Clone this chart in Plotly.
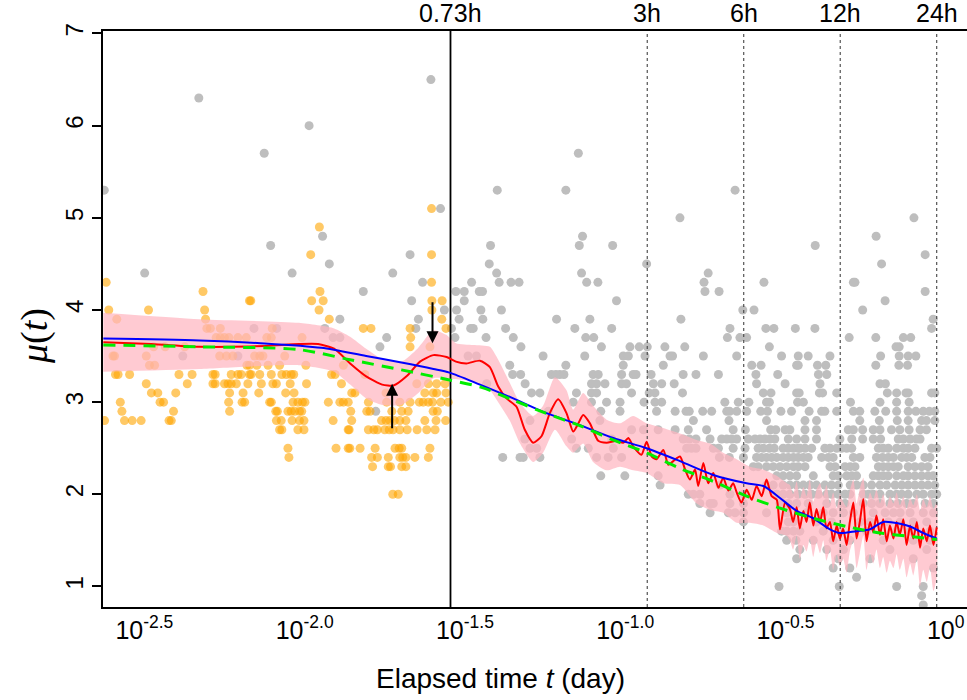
import math
import plotly.graph_objects as go

# ---------------- data ----------------
# magnitude levels (mu) and, per level, the log10 of elapsed time (day) of each event
gray_levels = [6.5, 6.3, 6.0, 5.7, 5.3, 5.1, 5.0, 4.8, 4.7, 4.6, 4.5, 4.4, 4.3, 4.2, 4.1, 4.0,
               3.9, 3.8, 3.7, 3.6, 3.5, 3.4, 3.3, 3.2, 3.1, 3.0, 2.9, 2.8, 2.7, 2.6, 2.5, 2.4,
               2.3, 2.2, 2.1, 2.0, 1.9, 1.8, 1.7, 1.6, 1.5, 1.4, 1.3, 1.2, 1.1, 1.0, 0.9, 0.8]
gray_log10_t = [
    [-1.578],
    [-2.302],
    [-1.958],
    [-2.098, -1.118],
    [-2.597, -1.371, -1.157, -0.629],
    [-1.548],
    [-0.801, -0.071],
    [-1.916, -1.105, -0.189],
    [-2.078, -1.392, -1.115, -1.011, -0.379],
    [-1.643, -0.036],
    [-1.895, -1.396, -0.905, -0.172],
    [-2.471, -2.011, -1.697, -1.373, -1.108, -0.713],
    [-1.604, -1.451, -1.365, -1.328, -1.303, -1.092, -1.057, -0.726, -0.539, -0.260, -0.255],
    [-1.789, -1.500, -1.474, -1.427, -1.417, -0.723, -0.679, -0.036],
    [-1.638, -1.474, -0.999, -0.161],
    [-1.536, -1.498, -1.422, -1.358, -0.605, -0.570, -0.231],
    [-1.862, -1.617, -1.490, -1.416, -1.186, -1.082, -0.798, -0.011],
    [-2.130, -2.059, -1.909, -1.625, -1.514, -1.454, -1.446, -1.345, -1.129, -1.014, -0.645,
     -0.533, -0.508, -0.441, -0.380, -0.016],
    [-1.883, -1.862, -1.716, -1.503, -1.406, -1.321, -1.095, -1.070, -0.653, -0.614, -0.593,
     -0.273, -0.190, -0.104, -0.081],
    [-1.737, -1.297, -1.046, -0.957, -0.928, -0.903, -0.848, -0.786, -0.522, -0.127, -0.117],
    [-2.352, -2.180, -1.462, -1.436, -1.228, -1.098, -0.978, -0.962, -0.910, -0.832, -0.824,
     -0.728, -0.624, -0.484, -0.432, -0.401, -0.333, -0.175, -0.117, -0.089, -0.065],
    [-1.332, -1.157, -0.978, -0.853, -0.577, -0.548, -0.437, -0.432, -0.372, -0.346, -0.190,
     -0.118, -0.091],
    [-1.323, -1.298, -1.202, -1.188, -1.176, -1.163, -1.072, -1.056, -0.983, -0.947, -0.938,
     -0.891, -0.791, -0.751, -0.681, -0.564, -0.496, -0.369, -0.343],
    [-1.404, -1.284, -1.077, -1.061, -1.035, -0.983, -0.968, -0.884, -0.858, -0.819, -0.562,
     -0.473, -0.364, -0.177, -0.160],
    [-1.264, -1.238, -1.124, -1.077, -1.061, -0.952, -0.897, -0.879, -0.793, -0.541, -0.517,
     -0.437, -0.429, -0.366, -0.356, -0.312, -0.154, -0.125, -0.096, -0.089, -0.016, -0.006],
    [-1.134, -1.077, -1.030, -0.988, -0.913, -0.879, -0.858, -0.661, -0.619, -0.586, -0.531,
     -0.522, -0.434, -0.416, -0.269, -0.177, -0.125, -0.086],
    [-1.750, -1.212, -1.048, -0.988, -0.874, -0.816, -0.782, -0.772, -0.730, -0.702, -0.655,
     -0.646, -0.624, -0.593, -0.549, -0.528, -0.486, -0.453, -0.398, -0.359, -0.349, -0.312,
     -0.260, -0.240, -0.193, -0.159, -0.125, -0.089, -0.065, -0.042, -0.023, -0.006],
    [-1.269, -1.051, -0.759, -0.648, -0.531, -0.411, -0.375, -0.240, -0.179, -0.123, -0.089,
     -0.047, -0.032, -0.006],
    [-0.952, -0.915, -0.869, -0.816, -0.775, -0.718, -0.635, -0.597, -0.518, -0.502, -0.473,
     -0.458, -0.411, -0.375, -0.276, -0.260, -0.231, -0.198, -0.177, -0.141, -0.115, -0.086,
     -0.052, -0.032],
    [-1.285, -1.139, -1.014, -0.791, -0.772, -0.751, -0.707, -0.671, -0.655, -0.640, -0.624,
     -0.588, -0.567, -0.551, -0.536, -0.520, -0.505, -0.463, -0.437, -0.411, -0.375, -0.302,
     -0.265, -0.231, -0.198, -0.175, -0.120, -0.104, -0.083, -0.063, -0.052],
    [-1.269, -1.248, -1.124, -1.087, -1.009, -0.780, -0.765, -0.751, -0.697, -0.681, -0.635,
     -0.598, -0.557, -0.541, -0.522, -0.507, -0.479, -0.463, -0.447, -0.432, -0.427, -0.411,
     -0.390, -0.349, -0.333, -0.312, -0.297, -0.281, -0.265, -0.182, -0.167, -0.151, -0.125,
     -0.104, -0.089, -0.068, -0.016, 0.0],
    [-1.354, -1.300, -1.290, -1.238, -1.061, -1.025, -0.983, -0.678, -0.647, -0.603, -0.562,
     -0.546, -0.531, -0.515, -0.499, -0.479, -0.463, -0.447, -0.432, -0.416, -0.401, -0.359,
     -0.338, -0.323, -0.260, -0.240, -0.188, -0.169, -0.151, -0.135, -0.109, -0.094, -0.078,
     -0.037, -0.021],
    [-0.572, -0.557, -0.531, -0.510, -0.489, -0.468, -0.447, -0.432, -0.411, -0.333, -0.317,
     -0.286, -0.270, -0.255, -0.182, -0.167, -0.151, -0.135, -0.120, -0.089, -0.068, -0.047,
     -0.027],
    [-1.048, -0.973, -0.869, -0.499, -0.479, -0.458, -0.437, -0.385, -0.323, -0.307, -0.281,
     -0.265, -0.250, -0.198, -0.182, -0.167, -0.151, -0.125, -0.104, -0.089, -0.068, -0.047,
     -0.027, -0.011],
    [-0.863, -0.676, -0.531, -0.510, -0.479, -0.458, -0.437, -0.416, -0.396, -0.375, -0.349,
     -0.328, -0.307, -0.270, -0.250, -0.229, -0.203, -0.177, -0.156, -0.130, -0.109, -0.089,
     -0.068, -0.047, -0.027, -0.006],
    [-0.775, -0.759, -0.739, -0.645, -0.603, -0.499, -0.479, -0.458, -0.432, -0.411, -0.390,
     -0.369, -0.343, -0.328, -0.307, -0.286, -0.271, -0.229, -0.213, -0.198, -0.177, -0.146,
     -0.125, -0.109, -0.089, -0.062, -0.042, -0.016, 0.000],
    [-0.739, -0.707, -0.697, -0.645, -0.603, -0.489, -0.479, -0.463, -0.437, -0.401, -0.343,
     -0.302, -0.286, -0.229, -0.203, -0.177, -0.146, -0.120, -0.094, -0.073, -0.036, -0.010],
    [-0.707, -0.650, -0.629, -0.603, -0.531, -0.468, -0.406, -0.354, -0.323, -0.291, -0.260,
     -0.198, -0.161, -0.135, -0.114, -0.083, -0.042, -0.010],
    [-0.603, -0.463, -0.447, -0.375, -0.328, -0.239, -0.208, -0.151, -0.114, -0.073, -0.031],
    [-0.484, -0.468, -0.447, -0.427, -0.354, -0.302, -0.219, -0.125, -0.083, -0.021],
    [-0.468, -0.439, -0.385, -0.323, -0.271, -0.167, -0.073, -0.021],
    [-0.427, -0.343, -0.291, -0.146, -0.031],
    [-0.437, -0.307, -0.208, -0.073],
    [-0.323, -0.271, -0.010],
    [-0.250],
    [-0.492, -0.304, -0.125, -0.042],
    [-0.047],
    [-0.042],
]

orange_levels = [5.1, 4.9, 4.6, 4.3, 4.2, 4.1, 4.0, 3.9, 3.8, 3.7, 3.6, 3.5, 3.4, 3.3, 3.2,
                 3.1, 3.0, 2.9, 2.8, 2.7, 2.5, 2.4, 2.3, 2.0]
orange_log10_t = [
    [-1.576],
    [-1.926],
    [-1.953, -1.576],
    [-2.591, -1.576],
    [-2.289, -1.924],
    [-2.144, -2.140, -1.950, -1.914, -1.575, -1.543],
    [-2.583, -2.459, -2.284, -1.927, -1.575],
    [-2.558, -2.281, -1.895, -1.544],
    [-2.277, -2.266, -2.235, -2.073, -1.789, -1.765, -1.643, -1.531],
    [-2.248, -2.235, -2.222, -2.208, -2.180, -2.154, -2.090, -2.076, -1.980, -1.641],
    [-2.443, -2.407, -2.346, -1.643, -1.581],
    [-2.570, -2.565, -2.466, -2.237, -2.216, -2.196, -2.128, -2.112, -2.102, -2.034],
    [-2.456, -2.440, -2.152, -2.144, -2.121, -2.086, -2.050, -1.968, -1.851],
    [-2.562, -2.554, -2.518, -2.364, -2.323, -2.258, -2.251, -2.201, -2.180, -2.170, -2.144,
     -2.139, -2.112, -2.076, -2.043, -2.029, -2.014, -2.006, -1.888, -1.877, -1.784],
    [-2.466, -2.338, -2.258, -2.251, -2.222, -2.211, -2.201, -2.185, -2.149, -2.107, -2.071,
     -2.060, -2.017, -1.966, -1.857, -1.622, -1.586, -1.560, -1.534],
    [-2.450, -2.430, -2.374, -2.206, -2.164, -2.115, -2.031, -2.005, -1.825, -1.815, -1.718,
     -1.597, -1.571, -1.560, -1.531],
    [-2.547, -2.423, -2.412, -2.209, -2.167, -2.159, -2.081, -2.076, -2.008, -1.993, -1.979,
     -1.971, -1.898, -1.862, -1.851, -1.836, -1.773, -1.716, -1.675, -1.643, -1.614, -1.602,
     -1.586, -1.573, -1.547, -1.524],
    [-2.542, -2.381, -2.206, -2.062, -2.057, -2.024, -2.014, -2.003, -1.988, -1.981, -1.828,
     -1.778, -1.768, -1.700, -1.669, -1.649, -1.571, -1.558],
    [-2.596, -2.534, -2.510, -2.482, -2.395, -2.388, -2.060, -2.045, -2.011, -1.988, -1.974,
     -1.883, -1.825, -1.732, -1.718, -1.706, -1.692, -1.675, -1.656, -1.597, -1.562, -1.532],
    [-2.050, -2.043, -1.993, -1.974, -1.836, -1.833, -1.773, -1.756, -1.745, -1.722, -1.708,
     -1.696, -1.675, -1.652, -1.621, -1.591, -1.565],
    [-2.024, -1.874, -1.836, -1.831, -1.799, -1.752, -1.690, -1.677, -1.669, -1.581],
    [-2.021, -1.763, -1.745, -1.711, -1.675, -1.666, -1.656, -1.628, -1.586],
    [-1.760, -1.711, -1.704, -1.669, -1.656],
    [-1.697, -1.680],
]

# red estimate and its pink band
red_log10_t = [-2.60, -2.45, -2.30, -2.20, -2.09, -1.99, -1.93, -1.88, -1.83, -1.78, -1.73,
               -1.695, -1.654, -1.612, -1.570, -1.529, -1.500, -1.467, -1.425, -1.394, -1.368,
               -1.342, -1.311, -1.285, -1.259, -1.233, -1.207, -1.181, -1.155, -1.134, -1.118,
               -1.103, -1.082, -1.056, -1.030, -0.999, -0.978, -0.962, -0.947, -0.921, -0.905,
               -0.889, -0.874, -0.853, -0.837, -0.822, -0.801, -0.785, -0.770, -0.754, -0.744,
               -0.728, -0.713, -0.697, -0.681, -0.666, -0.650, -0.635, -0.624, -0.609, -0.593,
               -0.577, -0.562, -0.546, -0.531, -0.515, -0.499, -0.489, -0.473,
               -0.458, -0.448, -0.437, -0.427, -0.416, -0.406, -0.396, -0.385, -0.375, -0.364,
               -0.354, -0.344, -0.333, -0.323, -0.312, -0.302, -0.292, -0.281, -0.271, -0.260,
               -0.250, -0.240, -0.229, -0.219, -0.208, -0.198, -0.188, -0.177, -0.167, -0.156,
               -0.146, -0.135, -0.125, -0.115, -0.104, -0.094, -0.083, -0.073, -0.062, -0.052,
               -0.042, -0.031, -0.021, -0.010, 0.000]
red_mu = [3.65, 3.63, 3.60, 3.60, 3.61, 3.63, 3.63, 3.58, 3.42, 3.28, 3.19,
          3.18, 3.28, 3.44, 3.51, 3.49, 3.44, 3.42, 3.45, 3.38, 3.17,
          3.04, 2.95, 2.70, 2.56, 2.63, 2.88, 3.03, 2.88, 2.68, 2.77,
          2.86, 2.77, 2.58, 2.56, 2.58, 2.56, 2.61, 2.52, 2.43, 2.57,
          2.41, 2.38, 2.48, 2.32, 2.36, 2.41, 2.27, 2.16, 2.27, 2.09,
          2.34, 2.12, 2.23, 2.07, 2.18, 2.04, 2.12, 2.02, 1.91, 2.05,
          1.94, 2.09, 1.98, 2.16, 1.98, 1.94, 1.62, 1.91,
          1.84, 1.70, 1.86, 1.63, 1.82, 1.70, 1.91, 1.66, 1.84, 1.70,
          1.86, 1.63, 1.70, 1.49, 1.66, 1.52, 1.63, 1.45, 1.70, 1.91,
          1.52, 1.70, 1.95, 1.49, 1.70, 1.59, 1.77, 1.56, 1.73, 1.49,
          1.66, 1.52, 1.70, 1.56, 1.73, 1.45, 1.66, 1.52, 1.70, 1.42,
          1.63, 1.49, 1.66, 1.45, 1.64]

band_log10_t = [-2.60, -2.30, -1.99, -1.88, -1.83, -1.78, -1.73, -1.67, -1.62, -1.57, -1.53,
                -1.50, -1.446, -1.394, -1.368, -1.332, -1.300, -1.259, -1.228, -1.191, -1.155,
                -1.134, -1.103, -1.072, -1.030, -0.988, -0.947, -0.905, -0.853, -0.801, -0.749,
                -0.707, -0.666, -0.624, -0.583, -0.541, -0.499, -0.468,
                -0.458, -0.448, -0.437, -0.427, -0.416, -0.406, -0.396, -0.385, -0.375, -0.364,
                -0.354, -0.344, -0.333, -0.323, -0.312, -0.302, -0.292, -0.281, -0.271, -0.260,
                -0.250, -0.240, -0.229, -0.219, -0.208, -0.198, -0.188, -0.177, -0.167, -0.156,
                -0.146, -0.135, -0.125, -0.115, -0.104, -0.094, -0.083, -0.073, -0.062, -0.052,
                -0.042, -0.031, -0.021, -0.010, 0.000]
band_upper = [3.97, 3.90, 3.86, 3.80, 3.71, 3.58, 3.47, 3.44, 3.58, 3.78, 3.73,
              3.64, 3.62, 3.60, 3.46, 3.21, 2.99, 2.85, 2.96, 3.27, 3.13,
              2.92, 3.10, 2.96, 2.81, 2.77, 2.85, 2.77, 2.72, 2.66, 2.59,
              2.55, 2.45, 2.38, 2.30, 2.27, 2.20, 2.12,
              2.10, 2.00, 2.14, 1.95, 2.08, 1.98, 2.16, 1.92, 2.05, 2.12,
              1.98, 2.10, 1.90, 2.02, 1.85, 2.00, 1.92, 1.86, 2.04, 2.16,
              1.90, 2.06, 2.18, 1.88, 2.02, 1.94, 2.05, 1.90, 2.00, 1.86,
              1.98, 1.90, 2.02, 1.88, 1.98, 1.84, 1.96, 1.88, 2.00, 1.82,
              1.95, 1.86, 1.98, 1.84, 1.92]
band_lower = [3.33, 3.36, 3.40, 3.33, 3.19, 3.04, 2.97, 2.97, 3.09, 3.26, 3.26,
              3.25, 3.22, 3.13, 3.00, 2.80, 2.55, 2.35, 2.45, 2.70, 2.52,
              2.45, 2.55, 2.35, 2.26, 2.30, 2.26, 2.23, 2.12, 2.10, 1.90,
              1.83, 1.80, 1.69, 1.69, 1.66, 1.58, 1.55,
              1.50, 1.40, 1.55, 1.30, 1.45, 1.38, 1.52, 1.32, 1.48, 1.36,
              1.50, 1.28, 1.40, 1.18, 1.35, 1.22, 1.30, 1.15, 1.38, 1.50,
              1.20, 1.36, 1.55, 1.18, 1.36, 1.25, 1.40, 1.20, 1.32, 1.15,
              1.28, 1.20, 1.35, 1.18, 1.30, 1.10, 1.25, 1.12, 1.30, 1.00,
              1.18, 1.05, 1.20, 0.95, 1.10]

blue_log10_t = [-2.60, -2.30, -2.11, -1.92, -1.78, -1.67, -1.57, -1.52, -1.425, -1.321, -1.217,
                -1.113, -1.009, -0.905, -0.801, -0.697, -0.593, -0.541, -0.489, -0.437, -0.385,
                -0.333, -0.302, -0.250, -0.208, -0.167, -0.114, -0.083, -0.042, 0.000]
blue_mu = [3.69, 3.67, 3.64, 3.59, 3.50, 3.43, 3.36, 3.32, 3.19, 3.04, 2.88,
           2.75, 2.61, 2.50, 2.36, 2.21, 2.12, 2.09, 1.96, 1.82, 1.74,
           1.62, 1.58, 1.60, 1.62, 1.70, 1.68, 1.65, 1.58, 1.52]

green_log10_t = [-2.60, -2.30, -1.99, -1.83, -1.67, -1.52, -1.42, -1.32, -1.22, -1.11, -1.01,
                 -0.905, -0.80, -0.697, -0.593, -0.489, -0.385, -0.281, -0.177, -0.073, 0.000]
green_mu = [3.62, 3.60, 3.57, 3.46, 3.35, 3.24, 3.16, 3.02, 2.88, 2.74, 2.59,
            2.45, 2.28, 2.14, 1.98, 1.85, 1.74, 1.65, 1.58, 1.54, 1.51]

marker_hours = [0.73, 3, 6, 12, 24]
marker_labels = ["0.73h", "3h", "6h", "12h", "24h"]

# arrows marking the dip and the bump (log10 t, tail mu, head mu)
arrow_log10_t = [-1.573, -1.699]
arrow_tail_mu = [4.10, 2.70]
arrow_head_mu = [3.64, 3.20]

x_ticks_log10 = [-2.5, -2.0, -1.5, -1.0, -0.5, 0.0]
x_tick_text = ["10<sup>-2.5</sup>", "10<sup>-2.0</sup>", "10<sup>-1.5</sup>",
               "10<sup>-1.0</sup>", "10<sup>-0.5</sup>", "10<sup>0</sup>"]
y_ticks = [1, 2, 3, 4, 5, 6, 7]

X_RANGE = [-2.601, 0.0945]
Y_RANGE = [0.777, 7.027]

assert len(gray_levels) == len(gray_log10_t)
assert len(orange_levels) == len(orange_log10_t)
assert len(red_log10_t) == len(red_mu)
assert len(band_log10_t) == len(band_upper) == len(band_lower)


def flatten(levels, rows):
    xs, ys = [], []
    for lv, row in zip(levels, rows):
        for v in row:
            xs.append(10 ** v)
            ys.append(lv)
    return xs, ys


SANS = "Liberation Sans, Arial, Helvetica, sans-serif"
SERIF = "Liberation Serif, Times New Roman, serif"

fig = go.Figure()

gx, gy = flatten(gray_levels, gray_log10_t)
fig.add_trace(go.Scatter(x=gx, y=gy, mode="markers",
                         marker=dict(size=9, color="#bebebe", line=dict(width=0)),
                         hoverinfo="skip", showlegend=False))

ox, oy = flatten(orange_levels, orange_log10_t)
fig.add_trace(go.Scatter(x=ox, y=oy, mode="markers",
                         marker=dict(size=9, color="rgba(255,165,0,0.6)", line=dict(width=0)),
                         hoverinfo="skip", showlegend=False))

# pink band
bx = [10 ** v for v in band_log10_t]
fig.add_trace(go.Scatter(x=bx + bx[::-1], y=band_upper + band_lower[::-1],
                         fill="toself", fillcolor="rgba(255,182,193,0.72)",
                         line=dict(width=0, shape="spline", smoothing=0.6),
                         mode="lines", hoverinfo="skip", showlegend=False))

# vertical reference lines
for h in marker_hours:
    t = h / 24.0
    solid = (h == 0.73)
    fig.add_trace(go.Scatter(x=[t, t], y=Y_RANGE, mode="lines",
                             line=dict(color="black" if solid else "#444444",
                                       width=1.8 if solid else 1.1,
                                       dash="solid" if solid else "dot"),
                             hoverinfo="skip", showlegend=False))

fig.add_trace(go.Scatter(x=[10 ** v for v in red_log10_t], y=red_mu, mode="lines",
                         line=dict(color="#ff0000", width=2, shape="spline", smoothing=0.6),
                         hoverinfo="skip", showlegend=False))
fig.add_trace(go.Scatter(x=[10 ** v for v in blue_log10_t], y=blue_mu, mode="lines",
                         line=dict(color="#0000ff", width=2, shape="spline", smoothing=0.8),
                         hoverinfo="skip", showlegend=False))
fig.add_trace(go.Scatter(x=[10 ** v for v in green_log10_t], y=green_mu, mode="lines",
                         line=dict(color="#00ee00", width=3, dash="12px,8px",
                                   shape="spline", smoothing=0.8),
                         hoverinfo="skip", showlegend=False))

annotations = []
for h, lab in zip(marker_hours, marker_labels):
    annotations.append(dict(x=math.log10(h / 24.0), y=1, xref="x", yref="paper",
                            text=lab, showarrow=False, xanchor="center", yanchor="bottom",
                            yshift=2, font=dict(family=SANS, size=25, color="black")))

for lx, tail, head in zip(arrow_log10_t, arrow_tail_mu, arrow_head_mu):
    annotations.append(dict(x=lx, y=head, ax=lx, ay=tail, xref="x", yref="y",
                            axref="x", ayref="y", text="", showarrow=True,
                            arrowhead=2, arrowsize=1.2, arrowwidth=2, arrowcolor="black"))

annotations.append(dict(x=-0.079, y=0.47, xref="paper", yref="paper",
                        text="<i>μ</i>(<i>t</i>)", showarrow=False, textangle=-90,
                        xanchor="center", yanchor="middle",
                        font=dict(family=SERIF, size=38, color="black")))
annotations.append(dict(x=0.4595, y=-0.124, xref="paper", yref="paper",
                        text="Elapsed time <i>t</i> (day)", showarrow=False,
                        xanchor="center", yanchor="middle",
                        font=dict(family=SANS, size=28, color="black")))

fig.update_layout(
    width=967, height=700,
    margin=dict(l=103, r=0, t=31, b=93),
    paper_bgcolor="white", plot_bgcolor="white",
    showlegend=False,
    annotations=annotations,
    xaxis=dict(type="log", range=X_RANGE, showgrid=False, zeroline=False,
               showline=True, linecolor="black", linewidth=1.5, mirror=True,
               ticks="", tickvals=[10 ** v for v in x_ticks_log10], ticktext=x_tick_text,
               ticklabelshift=9,
               tickfont=dict(family=SANS, size=25, color="black")),
    yaxis=dict(range=Y_RANGE, showgrid=False, zeroline=False,
               showline=True, linecolor="black", linewidth=1.5, mirror=False,
               ticks="outside", ticklen=9, tickwidth=1.5, tickcolor="black",
               tickvals=y_ticks, tickangle=-90,
               tickfont=dict(family=SANS, size=24, color="black")),
)

fig.write_html("out.html")
